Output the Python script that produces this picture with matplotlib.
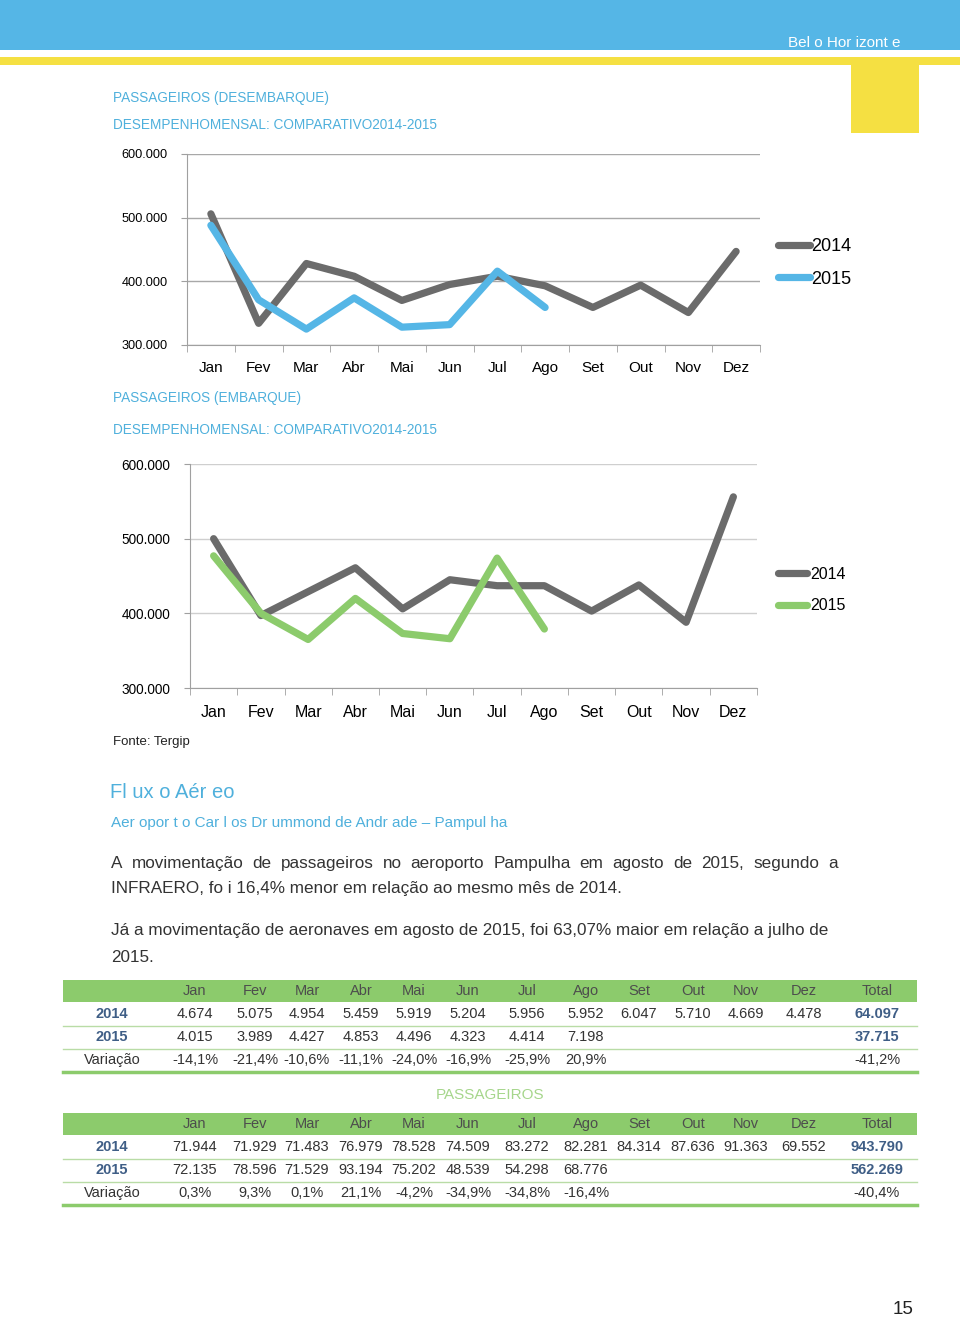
import matplotlib.pyplot as plt
from matplotlib.patches import Rectangle
from matplotlib.lines import Line2D

W, H = 960, 1319

meses = ['Jan', 'Fev', 'Mar', 'Abr', 'Mai', 'Jun', 'Jul', 'Ago', 'Set', 'Out', 'Nov', 'Dez']

# Passageiros desembarque
desemb_2014 = [506000, 334000, 428000, 408000, 370000, 395000, 408000, 393000, 359000, 394000, 351000, 447000]
desemb_2015 = [488000, 371000, 325000, 374000, 328000, 332000, 416000, 359000]

# Passageiros embarque
emb_2014 = [500000, 397000, 429000, 461000, 406000, 445000, 437000, 437000, 403000, 438000, 388000, 556000]
emb_2015 = [477000, 400000, 365000, 420000, 373000, 366000, 474000, 379000]

# Tabela 1
t1_header = meses + ['Total']
t1_2014 = ['4.674', '5.075', '4.954', '5.459', '5.919', '5.204', '5.956', '5.952', '6.047', '5.710', '4.669', '4.478', '64.097']
t1_2015 = ['4.015', '3.989', '4.427', '4.853', '4.496', '4.323', '4.414', '7.198', '', '', '', '', '37.715']
t1_var = ['-14,1%', '-21,4%', '-10,6%', '-11,1%', '-24,0%', '-16,9%', '-25,9%', '20,9%', '', '', '', '', '-41,2%']

# Tabela 2 (passageiros)
t2_2014 = ['71.944', '71.929', '71.483', '76.979', '78.528', '74.509', '83.272', '82.281', '84.314', '87.636', '91.363', '69.552', '943.790']
t2_2015 = ['72.135', '78.596', '71.529', '93.194', '75.202', '48.539', '54.298', '68.776', '', '', '', '', '562.269']
t2_var = ['0,3%', '9,3%', '0,1%', '21,1%', '-4,2%', '-34,9%', '-34,8%', '-16,4%', '', '', '', '', '-40,4%']

AZUL = '#55b6e6'
AMARELO = '#f5e042'
CINZA = '#6b6b6b'
VERDE = '#8ccb6c'
TXT_AZUL = '#4fb0dc'
SANS = ['Liberation Sans', 'DejaVu Sans']

fig = plt.figure(figsize=(W / 100, H / 100), dpi=100)


def px(x, y):
    return x / W, 1 - y / H


def txt(x, y, s, **kw):
    kw.setdefault('va', 'center')
    kw.setdefault('family', SANS)
    return fig.text(*px(x, y), s, **kw)


def hline(x0, x1, y, color, lw):
    fig.add_artist(Line2D([x0 / W, x1 / W], [1 - y / H, 1 - y / H], color=color, lw=lw,
                          transform=fig.transFigure))


def rect(x0, y0, x1, y1, color):
    fig.add_artist(Rectangle((x0 / W, 1 - y1 / H), (x1 - x0) / W, (y1 - y0) / H,
                             color=color, transform=fig.transFigure, lw=0))


def justificado(x0, x1, y, s, **kw):
    # espalha as palavras entre x0 e x1, alinhadas pela linha de base
    r = fig.canvas.get_renderer()
    palavras = s.split(' ')
    objs = [txt(x0, y, p, va='baseline', **kw) for p in palavras]
    larg = [o.get_window_extent(r).width for o in objs]
    gap = (x1 - x0 - sum(larg)) / (len(palavras) - 1)
    x = x0
    for o, w in zip(objs, larg):
        o.set_position(px(x, y))
        x += w + gap


# cabecalho
rect(0, 0, W, 50, AZUL)
rect(0, 57, W, 65, AMARELO)
rect(851, 65, 919, 133, AMARELO)
txt(900, 43, 'Bel o Hor izont e', color='white', ha='right', fontsize=11)


def line_chart(box, y2014, y2015, cor2015, tick_fs, xlab_fs, xpad, leg_fs, leg_anchor, leg_sp, leg_tp, grid_c):
    l, t, r, b = box
    ax = fig.add_axes([l / W, 1 - b / H, (r - l) / W, (b - t) / H])
    x14 = range(len(y2014))
    x15 = range(len(y2015))
    ax.plot(x14, y2014, color=CINZA, lw=5.2, solid_capstyle='round', label='2014')
    ax.plot(x15, y2015, color=cor2015, lw=5.2, solid_capstyle='round', label='2015')
    ax.set_xlim(-0.5, 11.5)
    ax.set_ylim(300000, 600000)
    ax.set_yticks([300000, 400000, 500000, 600000])
    ax.set_yticklabels(['300.000', '400.000', '500.000', '600.000'], fontsize=tick_fs, family=SANS)
    ax.set_xticks(range(12))
    ax.set_xticklabels(meses, fontsize=xlab_fs, family=SANS)
    ax.set_xticks([i - 0.5 for i in range(13)], minor=True)
    ax.tick_params(axis='x', which='major', length=0, pad=xpad)
    ax.tick_params(axis='x', which='minor', length=5, color='#a0a0a0')
    ax.tick_params(axis='y', length=4, color='#a0a0a0', pad=10)
    ax.grid(axis='y', color=grid_c, lw=1)
    ax.set_axisbelow(True)
    for s in ['top', 'right']:
        ax.spines[s].set_visible(False)
    for s in ['left', 'bottom']:
        ax.spines[s].set_color('#a0a0a0')
    ax.legend(loc='center left', bbox_to_anchor=leg_anchor, frameon=False,
              handlelength=1.8, handletextpad=leg_tp, labelspacing=leg_sp, borderpad=0,
              borderaxespad=0, prop={'family': SANS, 'size': leg_fs})
    return ax


TIT = dict(color=TXT_AZUL, fontsize=9.8)

# grafico 1 - desembarque
txt(113, 98, 'PASSAGEIROS (DESEMBARQUE)', **TIT)
txt(113, 125, 'DESEMPENHOMENSAL: COMPARATIVO2014-2015', **TIT)
line_chart((187, 154, 760, 345), desemb_2014, desemb_2015, AZUL, 9.2, 11, 11.5, 13,
           (1.031, 0.43), 0.85, 0.05, '#a8a8a8')

# grafico 2 - embarque
txt(113, 398, 'PASSAGEIROS (EMBARQUE)', **TIT)
txt(113, 430, 'DESEMPENHOMENSAL: COMPARATIVO2014-2015', **TIT)
line_chart((190, 464, 757, 688), emb_2014, emb_2015, VERDE, 9.8, 11.5, 12.5, 11.5,
           (1.037, 0.437), 1.05, 0.2, '#cfcfcf')

txt(113, 742, 'Fonte: Tergip', color='#222222', fontsize=9.5)

# texto
txt(110, 793, 'Fl ux o Aér eo', color=TXT_AZUL, fontsize=14.5)
txt(111, 823, 'Aer opor t o Car l os Dr ummond de Andr ade – Pampul ha', color=TXT_AZUL, fontsize=11)
PARA = dict(color='#333333', fontsize=12.3)
justificado(111, 838, 868,
            'A movimentação de passageiros no aeroporto Pampulha em agosto de 2015, segundo a', **PARA)
txt(111, 889, 'INFRAERO, fo i 16,4% menor em relação ao mesmo mês de 2014.', **PARA)
txt(111, 931, 'Já a movimentação de aeronaves em agosto de 2015, foi 63,07% maior em relação a julho de',
    **PARA)
txt(111, 957, '2015.', **PARA)

# tabelas
col_x = [195, 255, 307, 361, 414, 468, 527, 586, 639, 693, 746, 804, 877]
ROTULO = '#3f5e86'
LINHA = '#b9dca6'


def tabela(y_head, rows):
    rect(63, y_head - 11, 917, y_head + 11, VERDE)
    for x, h in zip(col_x, t1_header):
        txt(x, y_head, h, ha='center', color='#4d4d4d', fontsize=10.5)
    ys = [y_head + 23, y_head + 46, y_head + 69]
    for i, (y, (lab, vals)) in enumerate(zip(ys, rows)):
        bold = lab != 'Variação'
        txt(112, y, lab, ha='center', color=ROTULO if bold else '#333333', fontsize=10.5,
            fontweight='bold' if bold else 'normal')
        for j, (x, v) in enumerate(zip(col_x, vals)):
            last = j == len(vals) - 1
            txt(x, y, v, ha='center', fontsize=10.5,
                color=ROTULO if (last and bold) else '#333333',
                fontweight='bold' if (last and bold) else 'normal')
        if i < 2:
            hline(63, 917, y + 11.5, LINHA, 1)
    hline(63, 917, ys[-1] + 11.5, VERDE, 2.5)


tabela(991, [('2014', t1_2014), ('2015', t1_2015), ('Variação', t1_var)])
txt(490, 1095, 'PASSAGEIROS', ha='center', color='#a6d68c', fontsize=11)
tabela(1124, [('2014', t2_2014), ('2015', t2_2015), ('Variação', t2_var)])

txt(903, 1310, '15', ha='center', color='#222222', fontsize=13.5)

fig.savefig('out.png', dpi=100)
